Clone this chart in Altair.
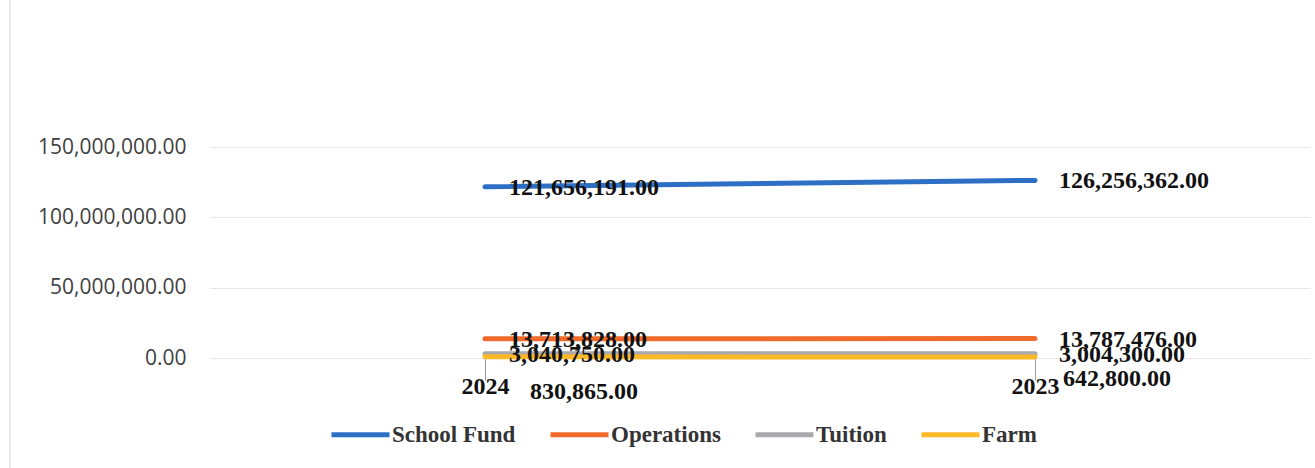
import altair as alt
import pandas as pd

years = ["2024", "2023"]
series = ["School Fund", "Operations", "Tuition", "Farm"]
school_fund = [121656191.00, 126256362.00]
operations = [13713828.00, 13787476.00]
tuition = [3040750.00, 3004300.00]
farm = [830865.00, 642800.00]
colors = ["#2E6FC6", "#F06A2C", "#A8A8AE", "#FDB827"]
y_ticks = [0, 50000000, 100000000, 150000000]

values = {"School Fund": school_fund, "Operations": operations, "Tuition": tuition, "Farm": farm}
rows = []
for s in series:
    for i, yr in enumerate(years):
        rows.append({"series": s, "year": yr, "value": values[s][i], "order": series.index(s)})
df = pd.DataFrame(rows)

x_enc = alt.X("year:N", sort=years,
              scale=alt.Scale(type="point", padding=0.5),
              axis=alt.Axis(title=None, domain=False, ticks=True, tickSize=22, tickColor="#9a9a9a",
                            tickWidth=1, labelPadding=-6, labelFont="Liberation Serif",
                            labelFontWeight="bold", labelFontSize=24, labelColor="#111111",
                            labelAngle=0, grid=False))
y_enc = alt.Y("value:Q", scale=alt.Scale(domain=[0, 150000000], nice=False),
              axis=alt.Axis(title=None, values=y_ticks, format=",.2f", domain=False, ticks=False,
                            labelPadding=24, labelFont="Open Sans", labelFontSize=21,
                            labelColor="#404040", grid=True, gridColor="#e6e6ee", gridWidth=1))

base = alt.Chart(df)

lines = base.mark_line(strokeWidth=5, strokeCap="round").encode(
    x=x_enc,
    y=y_enc,
    color=alt.Color("series:N", sort=series,
                    scale=alt.Scale(domain=series, range=colors),
                    legend=alt.Legend(title=None, orient="none", direction="horizontal",
                                      legendX=119, legendY=256, symbolType="stroke",
                                      symbolSize=3364, symbolStrokeWidth=5,
                                      labelFont="Liberation Serif", labelFontWeight="bold",
                                      labelFontSize=23, labelColor="#333333", labelOffset=0,
                                      columnPadding=24)),
    order=alt.Order("order:Q"),
)

text_style = dict(align="left", baseline="middle", font="Liberation Serif",
                  fontWeight="bold", fontSize=24, color="#111111")

labels_main = base.transform_filter("datum.series != 'Farm'").mark_text(dx=24, dy=1, **text_style).encode(
    x=alt.X("year:N", sort=years), y="value:Q", text=alt.Text("value:Q", format=",.2f"))
labels_farm24 = base.transform_filter("datum.series == 'Farm' && datum.year == '2024'").mark_text(
    dx=45, dy=35, **text_style).encode(
    x=alt.X("year:N", sort=years), y="value:Q", text=alt.Text("value:Q", format=",.2f"))
labels_farm23 = base.transform_filter("datum.series == 'Farm' && datum.year == '2023'").mark_text(
    dx=28, dy=22, **text_style).encode(
    x=alt.X("year:N", sort=years), y="value:Q", text=alt.Text("value:Q", format=",.2f"))

border = alt.Chart(pd.DataFrame({"a": [0]})).mark_rule(color="#e8e8f0", strokeWidth=2).encode(
    x=alt.value(-200), y=alt.value(-147), y2=alt.value(321))

chart = alt.layer(border, lines, labels_main, labels_farm24, labels_farm23).properties(
    width=1100, height=211,
    background="white",
    autosize=alt.AutoSizeParams(type="none"),
    padding={"left": 210, "top": 147, "right": 5, "bottom": 110},
).configure_view(strokeOpacity=0, strokeWidth=0)

chart.save("out.html", embed_options={"renderer": "svg", "actions": False})
